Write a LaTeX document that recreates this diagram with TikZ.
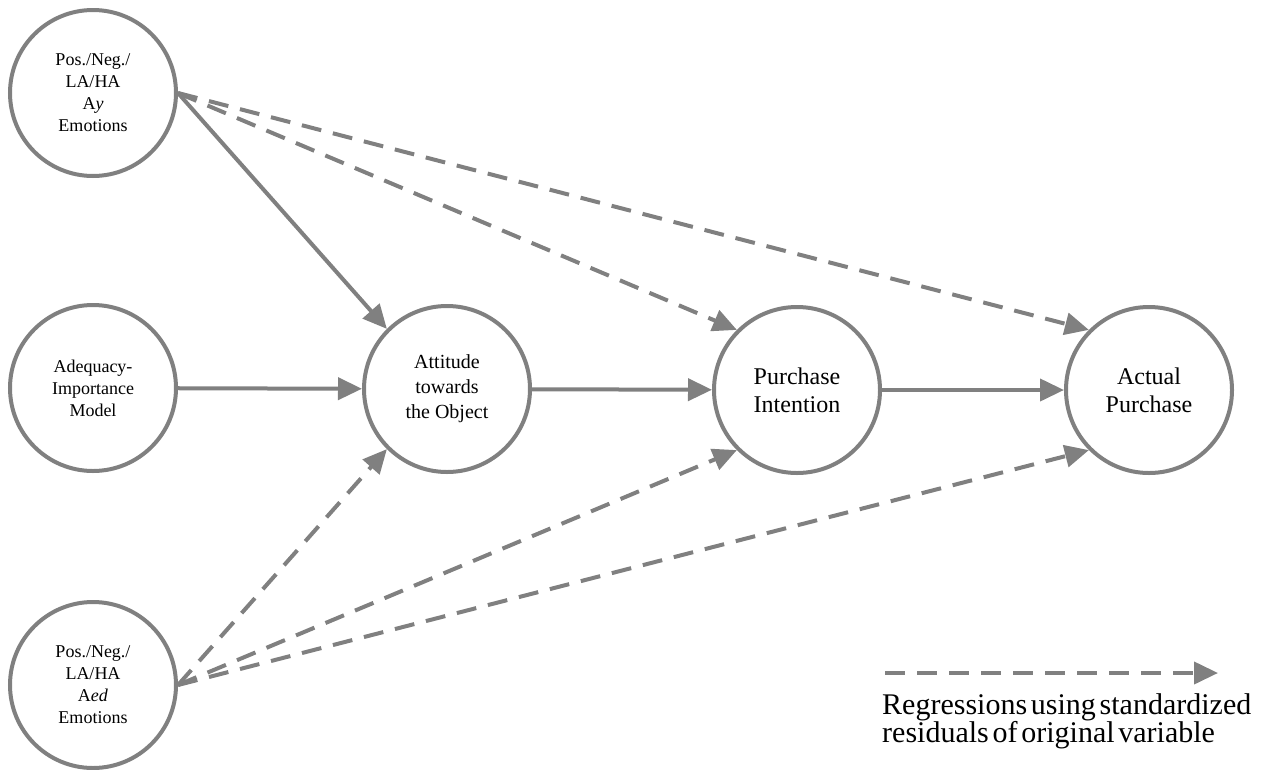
\documentclass[tikz,border=0pt]{standalone}
\usepackage{fontspec}
\setmainfont{Liberation Serif}
\newfontfamily\legfont[WordSpace=0.5]{Liberation Serif}
\usetikzlibrary{arrows.meta}
\definecolor{lg}{RGB}{128,128,128}
\begin{document}
\begin{tikzpicture}[x=1pt,y=-1pt,
  circ/.style={circle,draw=lg,line width=4pt,minimum size=166pt,inner sep=0pt,align=center,text=black},
  smtext/.style={font=\fontsize{18}{22}\selectfont},
  mdtext/.style={font=\fontsize{20}{25}\selectfont},
  bgtext/.style={font=\fontsize{24}{28}\selectfont},
  arr/.style={draw=lg,line width=4pt,-{Triangle[length=24pt,width=22pt]}},
  dsh/.style={arr,dash pattern=on 20pt off 12pt}
]
\useasboundingbox (0,0) rectangle (1269,769);

\node[circ,smtext] (ay) at (93,93) {Pos./Neg./\\LA/HA\\A\textit{y}\\Emotions};
\node[circ,smtext] (adq) at (93,388) {Adequacy-\\Importance\\Model};
\node[circ,smtext] (aed) at (93,685) {Pos./Neg./\\LA/HA\\A\textit{ed}\\Emotions};
\node[circ,mdtext] (att) at (447,389) {Attitude\\towards\\the Object};
\node[circ,bgtext] (pi) at (797,390) {Purchase\\Intention};
\node[circ,bgtext] (ap) at (1149,390) {Actual\\Purchase};

\draw[arr] (ay.east) -- (att.north west);
\draw[dsh] (ay.east) -- (pi.north west);
\draw[dsh] (ay.east) -- (ap.north west);
\draw[arr] (adq) -- (att);
\draw[arr] (att) -- (pi);
\draw[arr] (pi) -- (ap);
\draw[dsh] (aed.east) -- (att.south west);
\draw[dsh] (aed.east) -- (pi.south west);
\draw[dsh] (aed.east) -- (ap.south west);

\coordinate (ls) at (885,673);
\coordinate (le) at (1218,673);
\draw[dsh] (ls) -- (le);
\node[anchor=base west,inner sep=0pt,font=\legfont\fontsize{30}{30}\selectfont] (l1) at (882,714) {Regressions using standardized};
\node[anchor=base west,inner sep=0pt,font=\legfont\fontsize{30}{30}\selectfont] (l2) at (882,742) {residuals of original variable};
\end{tikzpicture}
\end{document}
